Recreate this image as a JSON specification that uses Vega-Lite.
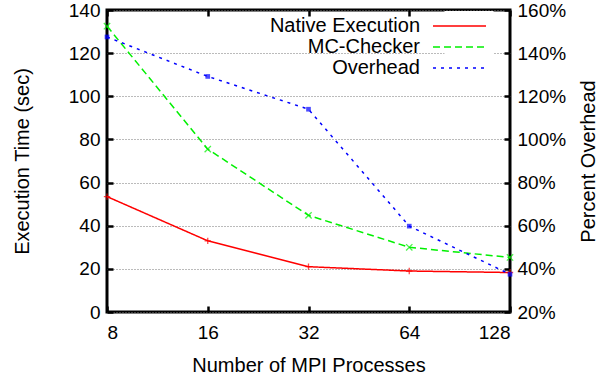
{
  "$schema": "https://vega.github.io/schema/vega-lite/v6.json",
  "width": 403,
  "height": 302,
  "autosize": {"type": "none"},
  "padding": {"left": 107, "top": 10, "right": 98, "bottom": 65},
  "background": "white",
  "config": {
    "font": "Liberation Sans",
    "view": {"stroke": "black", "strokeWidth": 3},
    "axis": {
      "labelFont": "Liberation Sans", "labelFontSize": 19, "labelColor": "black",
      "titleFont": "Liberation Sans", "titleFontSize": 20, "titleFontWeight": "normal", "titleColor": "black",
      "domain": false, "tickColor": "black", "tickWidth": 2.5, "tickSize": -6,
      "gridColor": "#777", "gridDash": [1, 2], "gridWidth": 1, "gridOpacity": 1
    },
    "legend": {
      "labelFont": "Liberation Sans", "labelFontSize": 20, "labelColor": "black",
      "symbolType": "M-2.65,0L2.65,0", "symbolSize": 400, "symbolStrokeWidth": 1.5,
      "labelAlign": "right", "labelOffset": -50.5, "rowPadding": -1.5,
      "fillColor": "white", "padding": 4
    }
  },
  "datasets": {
    "time": [
      {"procs": 8, "series": "Native Execution", "value": 53.5},
      {"procs": 16, "series": "Native Execution", "value": 33},
      {"procs": 32, "series": "Native Execution", "value": 21},
      {"procs": 64, "series": "Native Execution", "value": 19},
      {"procs": 128, "series": "Native Execution", "value": 18.3},
      {"procs": 8, "series": "MC-Checker", "value": 132.5},
      {"procs": 16, "series": "MC-Checker", "value": 75.5},
      {"procs": 32, "series": "MC-Checker", "value": 44.8},
      {"procs": 64, "series": "MC-Checker", "value": 30},
      {"procs": 128, "series": "MC-Checker", "value": 25.3}
    ],
    "overhead": [
      {"procs": 8, "series": "Overhead", "value": 147.5},
      {"procs": 16, "series": "Overhead", "value": 129.2},
      {"procs": 32, "series": "Overhead", "value": 114},
      {"procs": 64, "series": "Overhead", "value": 59.8},
      {"procs": 128, "series": "Overhead", "value": 37.5}
    ]
  },
  "layer": [
    {
      "data": {"name": "time"},
      "layer": [
        {
          "mark": {"type": "line", "strokeWidth": 1.5, "clip": true},
          "encoding": {
            "x": {"field": "procs", "type": "quantitative",
              "scale": {"type": "log", "base": 2, "domain": [8, 128], "nice": false},
              "axis": {"orient": "bottom", "values": [8, 16, 32, 64, 128], "title": "Number of MPI Processes", "labelPadding": 17, "titlePadding": 13, "grid": false}},
            "y": {"field": "value", "type": "quantitative",
              "scale": {"domain": [0, 140], "nice": false},
              "axis": {"orient": "left", "values": [0, 20, 40, 60, 80, 100, 120, 140], "title": "Execution Time (sec)", "labelPadding": 13, "titlePadding": 36, "grid": true}},
            "color": {"field": "series", "type": "nominal",
              "scale": {"domain": ["Native Execution", "MC-Checker", "Overhead"], "range": ["#ff0000", "#00f000", "#0000ff"]},
              "legend": {"title": null, "orient": "none", "legendX": 337.5, "legendY": 1}},
            "strokeDash": {"field": "series", "type": "nominal",
              "scale": {"domain": ["Native Execution", "MC-Checker", "Overhead"], "range": [[1, 0], [7, 4], [3, 5]]},
              "legend": {"title": null, "orient": "none", "legendX": 337.5, "legendY": 1}}
          }
        },
        {
          "mark": {"type": "point", "filled": false, "strokeWidth": 1.3, "size": 40, "clip": false},
          "encoding": {
            "x": {"field": "procs", "type": "quantitative"},
            "y": {"field": "value", "type": "quantitative"},
            "color": {"field": "series", "type": "nominal", "legend": null},
            "shape": {"field": "series", "type": "nominal",
              "scale": {"domain": ["Native Execution", "MC-Checker"], "range": ["M-1,0L1,0M0,-1L0,1", "M-1,-1L1,1M-1,1L1,-1"]},
              "legend": null}
          }
        }
      ]
    },
    {
      "data": {"name": "overhead"},
      "layer": [
        {
          "mark": {"type": "line", "strokeWidth": 1.5},
          "encoding": {
            "x": {"field": "procs", "type": "quantitative",
              "axis": {"orient": "top", "values": [8, 16, 32, 64, 128], "labels": false, "title": null, "grid": false}},
            "y": {"field": "value", "type": "quantitative",
              "scale": {"domain": [20, 160], "nice": false},
              "axis": {"orient": "right", "values": [20, 40, 60, 80, 100, 120, 140, 160], "labelExpr": "datum.value + '%'", "title": "Percent Overhead", "titleAngle": 270, "titleBaseline": "top", "labelPadding": 13, "titlePadding": 13, "grid": false}},
            "color": {"field": "series", "type": "nominal"},
            "strokeDash": {"field": "series", "type": "nominal"}
          }
        },
        {
          "mark": {"type": "point", "filled": true, "shape": "square", "size": 22, "color": "#0000ff"},
          "encoding": {
            "x": {"field": "procs", "type": "quantitative"},
            "y": {"field": "value", "type": "quantitative"}
          }
        }
      ]
    }
  ],
  "resolve": {"scale": {"y": "independent"}, "axis": {"x": "independent"}}
}
